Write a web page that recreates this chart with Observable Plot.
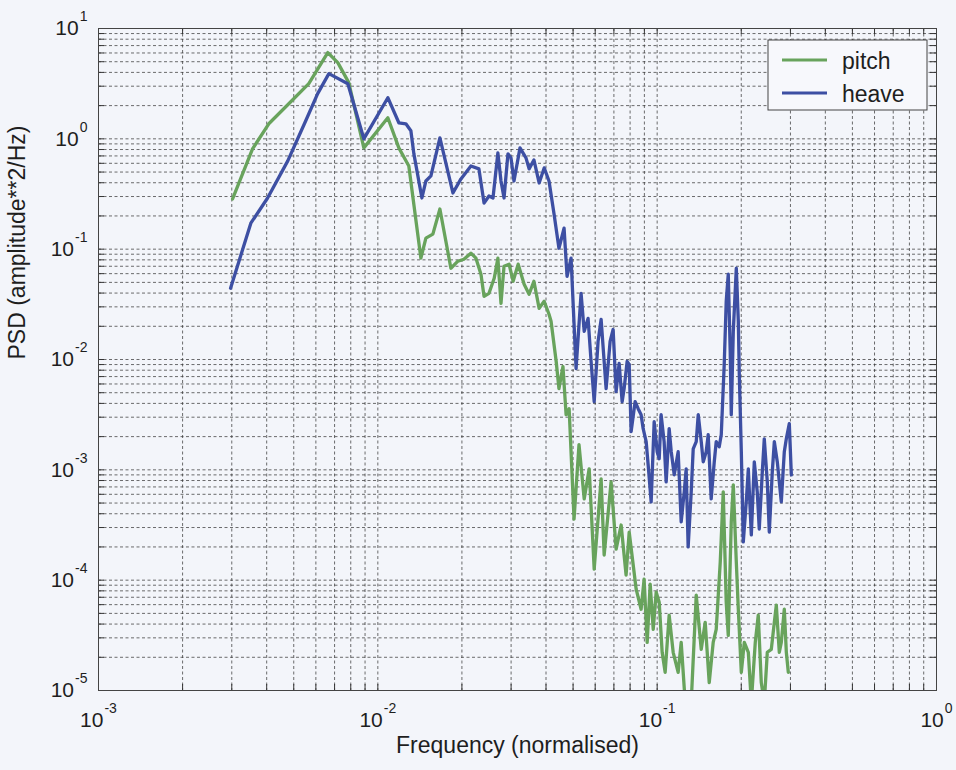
<!DOCTYPE html>
<html>
<head>
<meta charset="utf-8">
<script src="https://cdn.jsdelivr.net/npm/d3@7"></script>
<script src="https://cdn.jsdelivr.net/npm/@observablehq/plot@0.6"></script>
<style>
  html, body { margin: 0; padding: 0; background: #f3f5fa; }
  #chart { width: 956px; height: 770px; }
</style>
</head>
<body>
<div id="chart"></div>
<script>
// ---- data ----
const pitchFreq = [0.00302,0.00356,0.00407,0.0048,0.00566,0.00662,0.00719,0.00787,0.00891,0.01086,
  0.01189,0.01291,0.01426,0.01486,0.01574,0.01668,0.01826,0.01935,0.02033,0.02154,
  0.02245,0.0234,0.024,0.025,0.0261,0.0269,0.0276,0.0283,0.0295,0.0305,
  0.0318,0.0334,0.0348,0.0362,0.0378,0.0394,0.041,0.0417,0.0435,0.0445,
  0.046,0.0472,0.0484,0.0504,0.0525,0.0548,0.0571,0.0595,0.063,0.0646,
  0.0684,0.0713,0.0743,0.0774,0.0794,0.0841,0.0876,0.0898,0.0921,0.0944,
  0.0968,0.0992,0.1017,0.1042,0.1068,0.1104,0.1141,0.1189,0.1219,0.126,
  0.1324,0.138,0.1438,0.1486,0.1536,0.1587,0.1627,0.1682,0.1724,0.1767,
  0.1797,0.1842,0.1873,0.192,0.1952,0.2001,0.2051,0.212,0.2173,0.2245,
  0.2301,0.2359,0.2418,0.2479,0.2562,0.2627,0.267,0.2737,0.2782,0.2852,
  0.29,0.2948];
const pitchPsd = [0.285,0.811,1.369,2.081,3.162,6.05,4.91,3.23,0.828,1.552,
  0.828,0.568,0.0828,0.126,0.137,0.231,0.0672,0.0778,0.0811,0.092,
  0.0828,0.0593,0.0374,0.0398,0.0545,0.0828,0.0323,0.0701,0.0731,0.0512,
  0.0731,0.0481,0.039,0.0512,0.0291,0.0337,0.0257,0.0222,0.00959,0.00545,
  0.00864,0.00316,0.00358,0.000358,0.00169,0.000545,0.00102,0.000126,0.000828,0.000169,
  0.000778,0.000191,0.000316,0.000111,0.000273,0.0000828,0.0000545,0.000102,0.0000273,0.000092,
  0.0000358,0.0000778,0.0000631,0.0000222,0.0000146,0.0000481,0.0000222,0.0000146,0.0000273,0.0000078,
  0.0000078,0.0000731,0.0000236,0.0000415,0.0000118,0.0000273,0.0000358,0.000146,0.000631,0.0000631,
  0.0000316,0.000337,0.000731,0.000146,0.0000545,0.0000146,0.0000273,0.0000222,0.0000078,0.0000273,
  0.0000481,0.0000118,0.0000078,0.0000222,0.0000236,0.0000415,0.0000593,0.0000222,0.0000273,0.0000545,
  0.0000222,0.0000146];

const heaveFreq = [0.00297,0.00351,0.00403,0.00476,0.00552,0.00609,0.00668,0.00781,0.00891,0.01086,
  0.01189,0.0126,0.01313,0.01346,0.01438,0.01486,0.01549,0.01668,0.01857,0.01984,
  0.02154,0.02301,0.024,0.025,0.02584,0.0269,0.0276,0.0283,0.02923,0.02997,
  0.03072,0.03228,0.03391,0.0348,0.0362,0.0378,0.0394,0.041,0.04274,0.0445,
  0.04565,0.04642,0.04758,0.04918,0.05125,0.05341,0.0548,0.05658,0.058,0.0595,
  0.06144,0.063,0.0646,0.06565,0.06785,0.06955,0.0713,0.07309,0.07492,0.07617,
  0.07807,0.0794,0.08069,0.08339,0.08549,0.0876,0.0891,0.09133,0.09284,0.09517,
  0.09755,0.1,0.1017,0.1033,0.1059,0.1077,0.1104,0.1123,0.1151,0.1189,
  0.1219,0.125,0.127,0.1291,0.1324,0.1346,0.138,0.1403,0.1438,0.1462,
  0.1498,0.1523,0.1561,0.1601,0.1627,0.1668,0.1696,0.1738,0.1767,0.1797,
  0.1826,0.1842,0.1873,0.192,0.1952,0.1968,0.2001,0.2034,0.2084,0.212,
  0.2173,0.2227,0.2282,0.232,0.2379,0.2418,0.2479,0.252,0.2583,0.2627,
  0.2692,0.2782,0.2852,0.29,0.2972,0.3022];
const heavePsd = [0.0442,0.172,0.291,0.631,1.457,2.566,3.898,3.162,1.0,2.359,
  1.398,1.369,1.182,0.731,0.291,0.415,0.461,1.021,0.323,0.433,
  0.568,0.534,0.262,0.303,0.291,0.746,0.415,0.291,0.731,0.672,
  0.415,0.828,0.672,0.534,0.644,0.398,0.545,0.415,0.208,0.102,
  0.131,0.155,0.0568,0.0828,0.00828,0.0398,0.018,0.0236,0.00959,0.00415,
  0.0146,0.0231,0.00959,0.00545,0.0146,0.0187,0.00512,0.0092,0.00415,0.00545,
  0.00959,0.00901,0.00222,0.00415,0.00358,0.00316,0.00236,0.0018,0.00111,0.000512,
  0.00273,0.00146,0.00126,0.00316,0.0018,0.000778,0.00236,0.00146,0.000901,0.00146,
  0.000337,0.000631,0.00102,0.0002,0.000631,0.00155,0.0018,0.00316,0.0018,0.00118,
  0.00146,0.00208,0.000545,0.00118,0.0018,0.00162,0.00208,0.00901,0.0337,0.0593,
  0.0118,0.00316,0.018,0.0672,0.0222,0.00731,0.00146,0.000222,0.000512,0.00102,
  0.000257,0.00118,0.000631,0.000291,0.000959,0.00191,0.000778,0.000273,0.000959,0.0018,
  0.00118,0.000512,0.00146,0.00191,0.00262,0.000901];

const seriesNames = ["pitch", "heave"];
const seriesColors = ["#68a35c", "#3d4fa3"];

const xDecades = [0.001, 0.01, 0.1, 1];
const xTickLabels = ["10^-3", "10^-2", "10^-1", "10^0"];
const yDecades = [1e-5, 1e-4, 1e-3, 1e-2, 1e-1, 1, 10];
const yTickLabels = ["10^-5", "10^-4", "10^-3", "10^-2", "10^-1", "10^0", "10^1"];
const minorSteps = [2, 3, 4, 5, 6, 7, 8, 9];

const xLabel = "Frequency (normalised)";
const yLabel = "PSD (amplitude**2/Hz)";

// ---- build tables ----
const pitchRows = pitchFreq.map((f, i) => ({ f, psd: pitchPsd[i] }));
const heaveRows = heaveFreq.map((f, i) => ({ f, psd: heavePsd[i] }));
const xGrid = xDecades.flatMap((d, i) => i < xDecades.length - 1 ? [d, ...minorSteps.map(m => d * m)] : [d]);
const yGrid = yDecades.flatMap((d, i) => i < yDecades.length - 1 ? [d, ...minorSteps.map(m => d * m)] : [d]);

const W = 956, H = 770, mL = 98, mR = 20, mT = 28, mB = 80;
const fW = W - mL - mR, fH = H - mT - mB;
const font = "'Liberation Sans', Arial, Helvetica, sans-serif";
const gridStyle = { stroke: "#333", strokeDasharray: "3,2.5", strokeWidth: 0.85, strokeOpacity: 0.85 };
const tickStyle = { stroke: "#333", strokeWidth: 1 };

const plot = Plot.plot({
  width: W, height: H,
  marginLeft: mL, marginRight: mR, marginTop: mT, marginBottom: mB,
  style: { background: "transparent", fontFamily: font, color: "#1e1e1e" },
  x: { type: "log", domain: [1e-3, 1], label: null },
  y: { type: "log", domain: [1e-5, 10], label: null },
  marks: [
    Plot.ruleX(xGrid, { x: d => d, ...gridStyle }),
    Plot.ruleY(yGrid, { y: d => d, ...gridStyle }),
    // inward tick marks on all four sides
    Plot.ruleX(xGrid, { x: d => d, insetTop: fH - 6, ...tickStyle }),
    Plot.ruleX(xGrid, { x: d => d, insetBottom: fH - 6, ...tickStyle }),
    Plot.ruleY(yGrid, { y: d => d, insetRight: fW - 6, ...tickStyle }),
    Plot.ruleY(yGrid, { y: d => d, insetLeft: fW - 6, ...tickStyle }),
    Plot.line(pitchRows, { x: "f", y: "psd", stroke: seriesColors[0], strokeWidth: 3.3, clip: true, strokeLinejoin: "round" }),
    Plot.line(heaveRows, { x: "f", y: "psd", stroke: seriesColors[1], strokeWidth: 3.3, clip: true, strokeLinejoin: "round" }),
    Plot.frame({ stroke: "#444", strokeWidth: 1 }),
    Plot.axisX(xDecades, { anchor: "bottom", tickSize: 0, tickPadding: 22, fontSize: 21,
      tickFormat: d => xTickLabels[xDecades.indexOf(d)] }),
    Plot.axisY(yDecades, { anchor: "left", tickSize: 0, tickPadding: 11, fontSize: 21,
      tickFormat: d => yTickLabels[yDecades.indexOf(d)] }),
    Plot.text([xLabel], { frameAnchor: "bottom", dy: 62, fontSize: 23, fill: "#1e1e1e" }),
    Plot.text([yLabel], { frameAnchor: "left", dx: -81, rotate: -90, fontSize: 23, fill: "#1e1e1e" })
  ]
});

// superscript exponents on the tick labels
d3.select(plot).selectAll("text").each(function () {
  const t = this.textContent;
  const m = /^10\^(-?\d+)$/.exec(t);
  if (!m) return;
  const el = d3.select(this);
  el.text(null);
  el.append("tspan").text("10");
  el.append("tspan").attr("dx", "1").attr("dy", "-14").attr("font-size", "14").text(m[1]);
});

// legend (inside the frame, top-right)
const svg = d3.select(plot);
const lg = svg.append("g").attr("font-family", font).attr("text-anchor", "start");
lg.append("rect").attr("x", 768).attr("y", 40).attr("width", 159).attr("height", 70)
  .attr("fill", "#f7f8fc").attr("stroke", "#444").attr("stroke-width", 1);
seriesNames.forEach((name, i) => {
  const y = 60 + i * 33;
  lg.append("line").attr("x1", 782).attr("x2", 827).attr("y1", y).attr("y2", y)
    .attr("stroke", seriesColors[i]).attr("stroke-width", 3);
  lg.append("text").attr("x", 842).attr("y", y + 9).attr("font-size", 23)
    .attr("text-anchor", "start").attr("fill", "#1e1e1e").text(name);
});

document.getElementById("chart").appendChild(plot);
</script>
</body>
</html>
